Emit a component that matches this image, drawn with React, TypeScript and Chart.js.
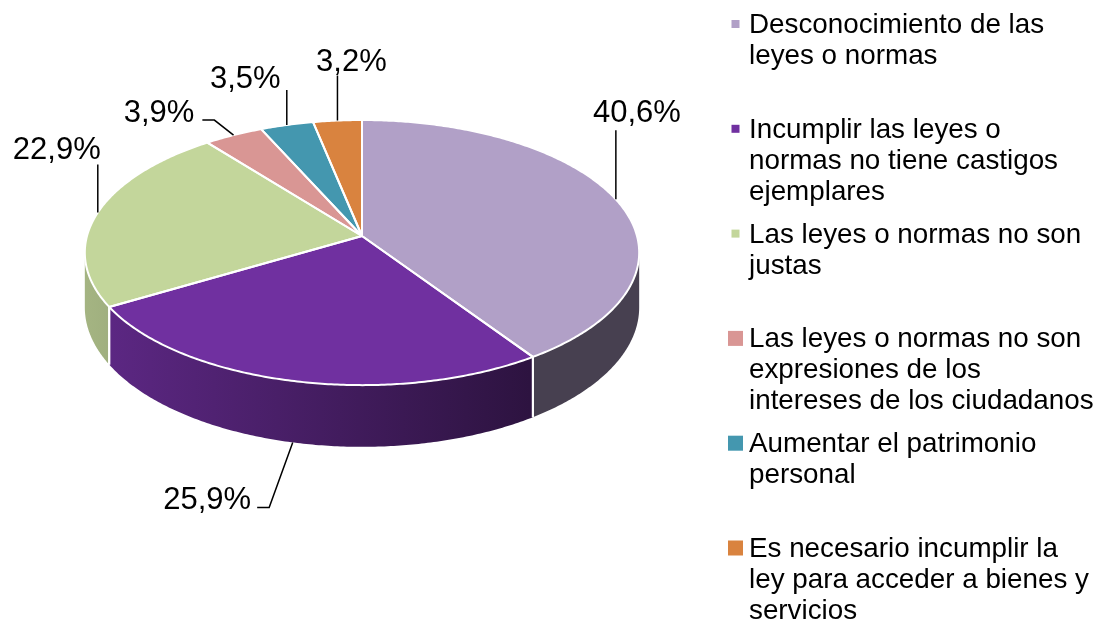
import React, { useEffect, useRef } from 'react';
import { Chart, registerables } from 'chart.js';

Chart.register(...registerables);

// ---------- data ----------
const categories: string[][] = [
  ['Desconocimiento de las', 'leyes o normas'],
  ['Incumplir las leyes o', 'normas no tiene castigos', 'ejemplares'],
  ['Las leyes o normas no son', 'justas'],
  ['Las leyes o normas no son', 'expresiones de los', 'intereses de los ciudadanos'],
  ['Aumentar el patrimonio', 'personal'],
  ['Es necesario incumplir la', 'ley para acceder a bienes y', 'servicios'],
];
const values: number[] = [40.6, 25.9, 22.9, 3.9, 3.5, 3.2];
const sliceColors: string[] = ['#B1A0C7', '#7030A0', '#C3D69B', '#D99694', '#4497AF', '#D9833F'];

// ---------- style ----------
const FONT = '"Liberation Sans", Arial, Helvetica, sans-serif';

const view = {
  tilt: 0.4745,
  persp: 0.125,
  depth: 54,
  centerY: 236,
  lightF: 0.84,
  darkF: 0.4,
  darkAt: 0.805,
};

const labelFontSize = 31;
const labelLayout = [
  { dx: 21, dy: -77, leader: 'v', gap: 8 },
  { dx: -85.5, dy: 67, leader: 'h', gap: 6 },
  { dx: -41, dy: -53, leader: 'v', gap: 5 },
  { dx: -74.5, dy: -13, leader: 'h', gap: 8 },
  { dx: -41.5, dy: -37, leader: 'v', gap: 2 },
  { dx: 14, dy: -50, leader: 'v', gap: 5 },
];

const legendStyle = {
  textX: 749,
  firstBaseline: 33,
  itemStep: 104.8,
  lineHeight: 31,
  markerX: 735.5,
  markerRise: 9,
  markerSizes: [8, 8, 8, 15, 15, 15],
  fontSize: 27.8,
};

function shade(hex: string, f: number): string {
  const n = parseInt(hex.slice(1), 16);
  const r = Math.round(((n >> 16) & 255) * f);
  const g = Math.round(((n >> 8) & 255) * f);
  const b = Math.round((n & 255) * f);
  return `rgb(${r},${g},${b})`;
}

function formatPct(v: number): string {
  return v.toFixed(1).replace('.', ',') + '%';
}

function projector(cx: number, r: number) {
  return (t: number, drop: number) => {
    const u = Math.cos(t);
    const v = Math.sin(t);
    const w = 1 - view.persp * v;
    return {
      x: cx + (r * u) / w,
      y: view.centerY + (r * view.tilt * v) / w + (drop * view.depth) / w,
    };
  };
}

const pie3d = {
  id: 'pie3d',
  beforeDatasetsDraw(chart: any) {
    const ctx: CanvasRenderingContext2D = chart.ctx;
    const meta = chart.getDatasetMeta(0);
    const arcs: any[] = meta.data;
    if (!arcs.length) return false;
    const cx = arcs[0].x;
    const r = arcs[0].outerRadius;
    const P = projector(cx, r);
    const t0 = Math.asin(view.persp);
    const t1 = Math.PI - t0;
    const colors: string[] = chart.data.datasets[0].backgroundColor;

    ctx.save();
    // side walls
    arcs.forEach((arc, i) => {
      const lo = Math.max(arc.startAngle, t0);
      const hi = Math.min(arc.endAngle, t1);
      if (hi <= lo) return;
      const n = Math.max(2, Math.ceil((hi - lo) / 0.01));
      ctx.beginPath();
      for (let k = 0; k <= n; k++) {
        const p = P(lo + ((hi - lo) * k) / n, 0);
        if (k === 0) ctx.moveTo(p.x, p.y);
        else ctx.lineTo(p.x, p.y);
      }
      for (let k = n; k >= 0; k--) {
        const p = P(lo + ((hi - lo) * k) / n, 1);
        ctx.lineTo(p.x, p.y);
      }
      ctx.closePath();
      const g = ctx.createLinearGradient(cx - r, 0, cx + r, 0);
      g.addColorStop(0, shade(colors[i], view.lightF));
      g.addColorStop(view.darkAt, shade(colors[i], view.darkF));
      g.addColorStop(1, shade(colors[i], view.darkF));
      ctx.fillStyle = g;
      ctx.fill();
    });
    // white separators on side walls
    ctx.strokeStyle = '#FFFFFF';
    ctx.lineWidth = 2;
    arcs.forEach((arc) => {
      [arc.startAngle, arc.endAngle].forEach((t: number) => {
        if (t > t0 && t < t1) {
          const a = P(t, 0);
          const b = P(t, 1);
          ctx.beginPath();
          ctx.moveTo(a.x, a.y);
          ctx.lineTo(b.x, b.y);
          ctx.stroke();
        }
      });
    });
    // top faces
    const paths: Path2D[] = [];
    arcs.forEach((arc, i) => {
      const path = new Path2D();
      path.moveTo(cx, view.centerY);
      const n = Math.max(2, Math.ceil((arc.endAngle - arc.startAngle) / 0.01));
      for (let k = 0; k <= n; k++) {
        const p = P(arc.startAngle + ((arc.endAngle - arc.startAngle) * k) / n, 0);
        path.lineTo(p.x, p.y);
      }
      path.closePath();
      ctx.fillStyle = colors[i];
      ctx.fill(path);
      paths.push(path);
    });
    ctx.lineJoin = 'round';
    ctx.lineWidth = 2;
    ctx.strokeStyle = '#FFFFFF';
    paths.forEach((p) => ctx.stroke(p));
    ctx.restore();
    return false;
  },
  afterDraw(chart: any) {
    const ctx: CanvasRenderingContext2D = chart.ctx;
    const meta = chart.getDatasetMeta(0);
    const arcs: any[] = meta.data;
    if (!arcs.length) return;
    const cx = arcs[0].x;
    const r = arcs[0].outerRadius;
    const P = projector(cx, r);
    const t0 = Math.asin(view.persp);
    const t1 = Math.PI - t0;
    const data: number[] = chart.data.datasets[0].data;
    const colors: string[] = chart.data.datasets[0].backgroundColor;
    const labels: string[][] = chart.data.labels;

    ctx.save();
    // data labels with leader lines
    ctx.font = `${labelFontSize}px ${FONT}`;
    ctx.textAlign = 'center';
    ctx.textBaseline = 'alphabetic';
    arcs.forEach((arc, i) => {
      const mid = (arc.startAngle + arc.endAngle) / 2;
      const front = mid > t0 && mid < t1 && Math.sin(mid) > 0.5;
      const anchor = P(mid, front ? 1 : 0);
      const lay = labelLayout[i];
      const text = formatPct(data[i]);
      const tx = anchor.x + lay.dx;
      const ty = anchor.y + lay.dy;
      const w = ctx.measureText(text).width;
      ctx.strokeStyle = '#000000';
      ctx.lineWidth = 1.5;
      ctx.beginPath();
      if (lay.leader === 'v') {
        ctx.moveTo(anchor.x, anchor.y);
        ctx.lineTo(anchor.x, ty + lay.gap);
      } else {
        const right = tx + w / 2;
        ctx.moveTo(right + lay.gap, ty - 2);
        ctx.lineTo(right + lay.gap + 12, ty - 2);
        ctx.lineTo(anchor.x, anchor.y);
      }
      ctx.stroke();
      ctx.fillStyle = '#000000';
      ctx.fillText(text, tx, ty);
    });

    // legend
    ctx.font = `${legendStyle.fontSize}px ${FONT}`;
    ctx.textAlign = 'left';
    labels.forEach((lines, i) => {
      const base = legendStyle.firstBaseline + i * legendStyle.itemStep;
      const s = legendStyle.markerSizes[i];
      ctx.fillStyle = colors[i];
      ctx.fillRect(legendStyle.markerX - s / 2, base - legendStyle.markerRise - s / 2, s, s);
      ctx.fillStyle = '#000000';
      lines.forEach((line, j) => {
        ctx.fillText(line, legendStyle.textX, base + j * legendStyle.lineHeight);
      });
    });
    ctx.restore();
  },
};

export default function App() {
  const canvasRef = useRef<HTMLCanvasElement | null>(null);

  useEffect(() => {
    if (!canvasRef.current) return;
    const chart = new Chart(canvasRef.current, {
      type: 'pie',
      data: {
        labels: categories as any,
        datasets: [
          {
            data: values,
            backgroundColor: sliceColors,
            borderWidth: 0,
            hoverBorderWidth: 0,
            hoverOffset: 0,
            offset: 0,
          } as any,
        ],
      },
      options: {
        responsive: false,
        animation: false,
        events: [],
        layout: { padding: { left: 87, right: 461, top: 36, bottom: 36 } },
        plugins: {
          legend: { display: false },
          tooltip: { enabled: false },
        },
      },
      plugins: [pie3d as any],
    });
    return () => chart.destroy();
  }, []);

  return (
    <div style={{ position: 'absolute', left: 0, top: 0, width: 1098, height: 622, background: '#FFFFFF' }}>
      <canvas ref={canvasRef} width={1098} height={622} style={{ display: 'block' }} />
    </div>
  );
}
